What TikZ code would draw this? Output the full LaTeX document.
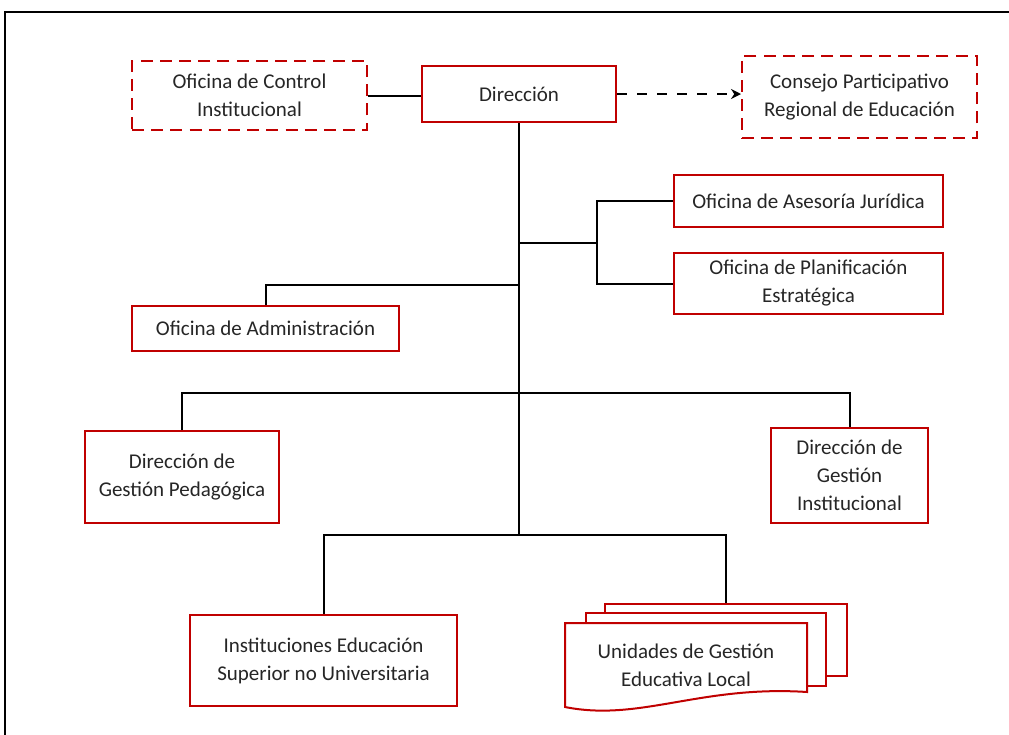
\documentclass[tikz,border=0pt]{standalone}
\usepackage{fontspec}
\setmainfont{Carlito}
\usetikzlibrary{arrows.meta}
\definecolor{rojo}{HTML}{C00000}
\begin{document}
\begin{tikzpicture}[x=0.5pt,y=-0.5pt,line join=miter,
		font=\fontsize{10.5}{14}\selectfont,
		caja/.style={draw=rojo,line width=1pt,fill=white,align=center,inner sep=0pt,text=black!85},
		punteada/.style={caja,dash pattern=on 6pt off 3.6pt},
		tam/.style 2 args={minimum width=#1*0.5pt,minimum height=#2*0.5pt},
		linea/.style={draw=black,line width=1pt},
		flecha/.style={linea,line width=1.3pt,dash pattern=on 5pt off 5pt,-{Stealth[length=5pt,width=5pt]}}]
	\useasboundingbox (0,0) rectangle (1009,735);
	\draw[line width=1pt] (1009,11.5)--(4.5,11.5)--(4.5,735);
	% primer nivel
	\node[punteada,tam={235}{69}] (control) at (249.5,95.5) {Oficina de Control\\Institucional};
	\node[caja,tam={194}{56}] (dir) at (519,94) {Dirección};
	\node[punteada,tam={235}{82}] (consejo) at (859.5,97) {Consejo Participativo\\Regional de Educación};
	% asesoria y apoyo
	\node[caja,tam={269}{52}] (juridica) at (808.5,201) {Oficina de Asesoría Jurídica};
	\node[caja,tam={269}{61}] (planif) at (808.5,283.5) {Oficina de Planificación\\Estratégica};
	\node[caja,tam={267}{45}] (adm) at (265.5,328.5) {Oficina de Administración};
	% direcciones de linea
	\node[caja,tam={194}{92}] (pedag) at (182,477) {Dirección de\\Gestión Pedagógica};
	\node[caja,tam={157}{95}] (instit) at (849.5,475.5) {Dirección de\\Gestión\\Institucional};
	% organos desconcentrados
	\node[caja,tam={267}{91}] (ies) at (323.5,660.5) {Instituciones Educación\\Superior no Universitaria};
	\node[caja,tam={242}{72}] (ugelc) at (726,640) {};
	\node[caja,tam={240}{73}] (ugelb) at (706,649.5) {};
	\filldraw[draw=rojo,fill=white,line width=1pt] (565,623)--(807,623)--(807,692)
		.. controls (700,685) and (640,722) .. (565,707)--cycle;
	\node[align=center,text=black!85,inner sep=0pt] (ugel) at (686,665) {Unidades de Gestión\\Educativa Local};
	% conectores
	\coordinate (ase) at (597,243);
	\coordinate (jadm) at (519,285);
	\coordinate (jdir) at (519,393);
	\coordinate (inf) at (519,535);
	\draw[linea] (control.east)--(control.east -| dir.west);
	\draw[flecha] (dir.east)--(dir.east -| consejo.west);
	\draw[linea] (dir.south)--(inf);
	\draw[linea] (dir.south |- ase)--(ase);
	\draw[linea] (juridica.west) -| (ase) |- (planif.west);
	\draw[linea] (adm.north) |- (jadm);
	\draw[linea] (pedag.north) |- (jdir) -| (instit.north);
	\draw[linea] (ies.north) |- (inf) -| (ugelc.north);
\end{tikzpicture}
\end{document}
